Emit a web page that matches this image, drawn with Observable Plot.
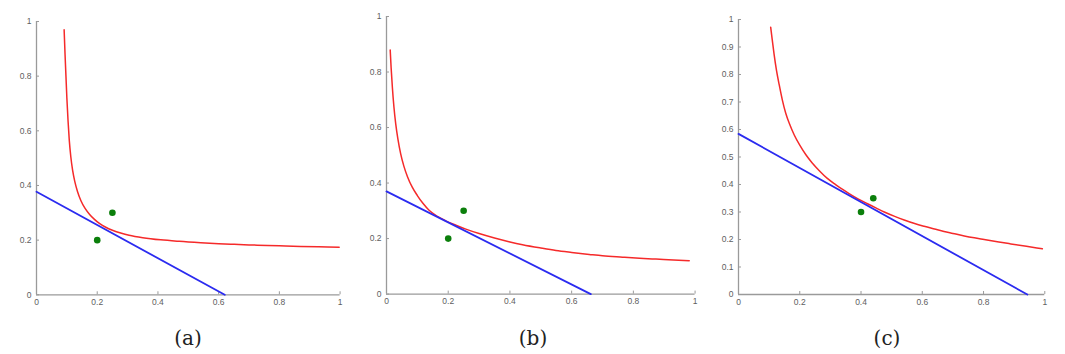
<!DOCTYPE html>
<html>
<head>
<meta charset="utf-8">
<script src="https://cdn.jsdelivr.net/npm/d3@7"></script>
<script src="https://cdn.jsdelivr.net/npm/@observablehq/plot@0.6"></script>
<style>
  html, body { margin: 0; padding: 0; background: #fff; }
  #wrap { position: relative; width: 1065px; height: 354px; overflow: hidden; background: #fff; }
  .panel { position: absolute; }
  .cap { position: absolute; font-family: "DejaVu Serif", "Liberation Serif", serif; font-size: 20px; color: #222; transform: translateX(-50%); line-height: 1; }
</style>
</head>
<body>
<div id="wrap"></div>
<script>
// ---------- data ----------
const xTicks = [0, 0.2, 0.4, 0.6, 0.8, 1];
const yTicksAB = [0, 0.2, 0.4, 0.6, 0.8, 1];
const yTicksC = [0, 0.1, 0.2, 0.3, 0.4, 0.5, 0.6, 0.7, 0.8, 0.9, 1];
const captions = ["(a)", "(b)", "(c)"];

// panel (a)
const curveA_x = [0.091, 0.094, 0.097, 0.100, 0.104, 0.108, 0.113, 0.119, 0.126, 0.135, 0.146, 0.160, 0.175, 0.190, 0.206, 0.228, 0.250, 0.280, 0.305, 0.350, 0.409, 0.470, 0.541, 0.600, 0.651, 0.700, 0.761, 0.820, 0.870, 0.930, 0.997];
const curveA_y = [0.970, 0.880, 0.800, 0.720, 0.635, 0.565, 0.505, 0.455, 0.415, 0.378, 0.345, 0.316, 0.294, 0.277, 0.262, 0.247, 0.236, 0.225, 0.218, 0.209, 0.201, 0.1955, 0.1905, 0.187, 0.1845, 0.1825, 0.1805, 0.1785, 0.177, 0.1755, 0.174];
const lineA_x = [0, 0.620];
const lineA_y = [0.377, 0];
const ptsA_x = [0.20, 0.25];
const ptsA_y = [0.20, 0.30];

// panel (b)
const curveB_x = [0.012, 0.015, 0.019, 0.024, 0.030, 0.037, 0.046, 0.056, 0.068, 0.083, 0.100, 0.118, 0.138, 0.165, 0.192, 0.225, 0.257, 0.300, 0.350, 0.400, 0.441, 0.500, 0.549, 0.600, 0.657, 0.700, 0.765, 0.820, 0.873, 0.930, 0.981];
const curveB_y = [0.879, 0.815, 0.745, 0.675, 0.612, 0.558, 0.505, 0.462, 0.423, 0.386, 0.355, 0.327, 0.302, 0.280, 0.264, 0.248, 0.234, 0.218, 0.202, 0.188, 0.178, 0.166, 0.157, 0.150, 0.143, 0.138, 0.133, 0.129, 0.126, 0.123, 0.120];
const lineB_x = [0, 0.662];
const lineB_y = [0.370, 0];
const ptsB_x = [0.20, 0.25];
const ptsB_y = [0.20, 0.30];

// panel (c)
const curveC_x = [0.105, 0.110, 0.116, 0.124, 0.133, 0.143, 0.154, 0.168, 0.182, 0.200, 0.220, 0.240, 0.263, 0.290, 0.318, 0.340, 0.361, 0.390, 0.421, 0.450, 0.476, 0.510, 0.541, 0.575, 0.606, 0.640, 0.671, 0.700, 0.737, 0.770, 0.802, 0.850, 0.889, 0.940, 0.992];
const curveC_y = [0.972, 0.928, 0.875, 0.815, 0.762, 0.708, 0.660, 0.616, 0.580, 0.543, 0.508, 0.479, 0.451, 0.422, 0.399, 0.382, 0.367, 0.348, 0.330, 0.314, 0.300, 0.284, 0.271, 0.258, 0.248, 0.238, 0.229, 0.222, 0.213, 0.206, 0.200, 0.191, 0.184, 0.175, 0.166];
const lineC_x = [0, 0.943];
const lineC_y = [0.584, 0];
const ptsC_x = [0.40, 0.44];
const ptsC_y = [0.30, 0.35];

// ---------- layout & style ----------
const M = {left: 30, right: 12, top: 8, bottom: 22};
const layout = [
  {svgLeft: 5.7,   svgTop: 12.7, w: 303.6, h: 273.3, capX: 188, capTop: 328},
  {svgLeft: 355.7, svgTop: 7.7,  w: 308.6, h: 277.6, capX: 533, capTop: 328},
  {svgLeft: 707.7, svgTop: 11,   w: 306.3, h: 275.0, capX: 887, capTop: 328}
];
const axisColor = "#9a9a9a";
const labelColor = "#5e5e5e";

const zip = (xs, ys) => xs.map((x, i) => ({x, y: ys[i]}));
const panels = [
  {curve: zip(curveA_x, curveA_y), line: zip(lineA_x, lineA_y), pts: zip(ptsA_x, ptsA_y), yTicks: yTicksAB},
  {curve: zip(curveB_x, curveB_y), line: zip(lineB_x, lineB_y), pts: zip(ptsB_x, ptsB_y), yTicks: yTicksAB},
  {curve: zip(curveC_x, curveC_y), line: zip(lineC_x, lineC_y), pts: zip(ptsC_x, ptsC_y), yTicks: yTicksC}
];

const wrap = document.getElementById("wrap");
const fmt = d => String(d);

panels.forEach((p, i) => {
  const L = layout[i];
  const chart = Plot.plot({
    width: M.left + L.w + M.right,
    height: M.top + L.h + M.bottom,
    marginLeft: M.left, marginRight: M.right, marginTop: M.top, marginBottom: M.bottom,
    style: {fontFamily: "'Liberation Sans', Arial, sans-serif", fontSize: "8.5px", background: "transparent", overflow: "visible"},
    x: {domain: [0, 1]},
    y: {domain: [0, 1]},
    marks: [
      Plot.ruleX([0], {stroke: axisColor, strokeWidth: 1.3}),
      Plot.ruleY([0], {stroke: axisColor, strokeWidth: 1.3}),
      Plot.axisX(xTicks, {tickSize: -3, tickPadding: 7, stroke: axisColor, fill: labelColor, tickFormat: fmt, label: null}),
      Plot.axisY(p.yTicks, {tickSize: -3, tickPadding: 8, stroke: axisColor, fill: labelColor, tickFormat: fmt, label: null}),
      Plot.line(p.curve, {x: "x", y: "y", stroke: "#f52a2a", strokeWidth: 1.5, curve: "monotone-x"}),
      Plot.line(p.line, {x: "x", y: "y", stroke: "#2b2bf0", strokeWidth: 1.8}),
      Plot.dot(p.pts, {x: "x", y: "y", r: 3.3, fill: "#0b7f0b", stroke: "none"})
    ]
  });
  chart.classList.add("panel");
  chart.style.left = L.svgLeft + "px";
  chart.style.top = L.svgTop + "px";
  chart.style.position = "absolute";
  wrap.appendChild(chart);

  const cap = document.createElement("div");
  cap.className = "cap";
  cap.textContent = captions[i];
  cap.style.left = L.capX + "px";
  cap.style.top = L.capTop + "px";
  wrap.appendChild(cap);
});
</script>
</body>
</html>
